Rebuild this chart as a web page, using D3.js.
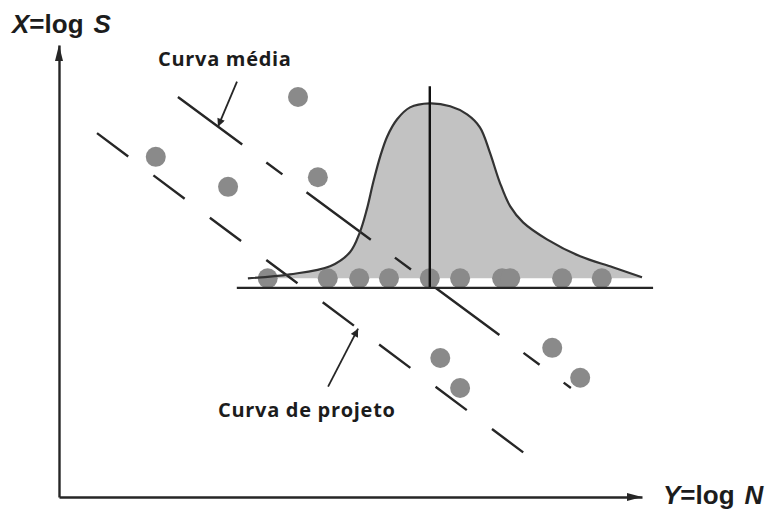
<!DOCTYPE html>
<html>
<head>
<meta charset="utf-8">
<script src="https://cdn.jsdelivr.net/npm/d3@7"></script>
<style>
  html, body { margin: 0; padding: 0; background: #fff; }
  svg { display: block; }
</style>
</head>
<body>
<svg id="chart" width="766" height="511"></svg>
<script>
// ---- Data (X = log S on the vertical axis, Y = log N on the horizontal axis) ----

// Scattered fatigue test results
const scatterLogN = [4.10, 1.66, 2.90, 4.44, 6.54, 6.88, 8.46, 8.94];
const scatterLogS = [7.08, 6.02, 5.49, 5.66, 2.46, 1.93, 2.64, 2.11];

// Results tested at a single stress level
const levelLogS = 3.87;
const levelLogN = [3.58, 4.61, 5.15, 5.66, 6.36, 6.88, 7.60, 7.74, 8.63, 9.31];
const levelAxisLogS = 3.70;      // reference line under that stress level
const levelAxisLogN = [3.05, 10.19];

// Distribution of log N at that stress level (relative density)
const densityLogN = [3.24, 3.96, 4.65, 4.99, 5.16, 5.28, 5.39, 5.51, 5.63, 5.80, 6.02,
                     6.36, 6.71, 7.00, 7.22, 7.39, 7.56, 7.74, 7.96, 8.37, 8.94, 9.50, 10.0];
const densityValue = [0.00, 0.023, 0.069, 0.149, 0.263, 0.394, 0.549, 0.697, 0.811, 0.909, 0.977,
                      1.00, 0.983, 0.937, 0.863, 0.72, 0.549, 0.411, 0.32, 0.223, 0.126, 0.063, 0.006];
const meanLogN = 6.36;
const meanLineTopLogS = 7.27;

// Mean curve and design curve (end points)
const meanCurveLogN = [2.04, 8.78];
const meanCurveLogS = [7.08, 1.93];
const designCurveLogN = [0.652, 7.976];
const designCurveLogS = [6.44, 0.779];

// Texts
const curveLabels = ["Curva média", "Curva de projeto"];
const axisLabelX = ["X", "=log", "S"];   // vertical axis
const axisLabelY = ["Y", "=log", "N"];   // horizontal axis

// ---- Layout ----
const svg = d3.select("#chart");
const ink = "#262626";

const xScale = d3.scaleLinear().domain([0, 10]).range([59, 642]);
const yScale = d3.scaleLinear().domain([0, 8]).range([497, 45]);
const densityScale = d3.scaleLinear().domain([0, 1]).range([0, 175]);

// arrowhead marker for the annotation leaders
const defs = svg.append("defs");
defs.append("marker")
  .attr("id", "tip")
  .attr("viewBox", "0 0 10 10")
  .attr("refX", 10).attr("refY", 5)
  .attr("markerWidth", 10).attr("markerHeight", 8)
  .attr("markerUnits", "userSpaceOnUse")
  .attr("orient", "auto")
  .append("path").attr("d", "M0,0L10,5L0,10Z").attr("fill", ink);

// ---- Axes ----
const xAxis = d3.axisBottom(xScale).tickValues([]).tickSizeOuter(0);
const yAxis = d3.axisLeft(yScale).tickValues([]).tickSizeOuter(0);
const gx = svg.append("g").attr("transform", `translate(0,${yScale(0)})`).call(xAxis);
const gy = svg.append("g").attr("transform", `translate(${xScale(0)},0)`).call(yAxis);
[gx, gy].forEach(g => g.select(".domain").attr("stroke", ink).attr("stroke-width", 2.4));

// axis arrowheads
const x0 = xScale(0), y0 = yScale(0);
const xEnd = xScale(10), yEnd = yScale(8);
svg.append("path")
  .attr("d", `M${xEnd},${y0}L${xEnd - 15},${y0 - 4}L${xEnd - 15},${y0 + 4}Z`)
  .attr("fill", ink);
svg.append("path")
  .attr("d", `M${x0},${yEnd}L${x0 - 4},${yEnd + 16}L${x0 + 4},${yEnd + 16}Z`)
  .attr("fill", ink);

// axis titles
function axisTitle(parts, x, y) {
  const t = svg.append("text")
    .attr("x", x).attr("y", y)
    .attr("font-family", "'Liberation Sans', Arial, sans-serif")
    .attr("font-weight", 700).attr("font-size", 26)
    .attr("fill", "#1c1c1c");
  t.append("tspan").attr("font-style", "italic").text(parts[0]);
  t.append("tspan").text(parts[1]);
  t.append("tspan").attr("font-style", "italic").attr("dx", 10).text(parts[2]);
}
axisTitle(axisLabelX, 12, 33);
axisTitle(axisLabelY, 663, 504);

// ---- Distribution at the tested stress level ----
const densityPts = densityLogN.map((n, i) => [n, densityValue[i]]);
const base = yScale(levelLogS);
const smooth = d3.curveCatmullRom.alpha(0.5);

svg.append("path")
  .datum(densityPts)
  .attr("d", d3.area()
    .x(d => xScale(d[0]))
    .y0(base)
    .y1(d => base - densityScale(d[1]))
    .curve(smooth))
  .attr("fill", "#c2c2c2");

// ---- Test points ----
const allPoints = scatterLogN.map((n, i) => ({n, s: scatterLogS[i]}))
  .concat(levelLogN.map(n => ({n, s: levelLogS})));
svg.append("g").selectAll("circle")
  .data(allPoints)
  .join("circle")
  .attr("cx", d => xScale(d.n))
  .attr("cy", d => yScale(d.s))
  .attr("r", 10)
  .attr("fill", "#8a8a8a");

// ---- Curves ----
const lineGen = d3.line().x(d => xScale(d[0])).y(d => yScale(d[1]));
svg.append("path")
  .datum(meanCurveLogN.map((n, i) => [n, meanCurveLogS[i]]))
  .attr("d", lineGen)
  .attr("fill", "none").attr("stroke", ink).attr("stroke-width", 2.4)
  .attr("stroke-dasharray", "80,30,20,30");
svg.append("path")
  .datum(designCurveLogN.map((n, i) => [n, designCurveLogS[i]]))
  .attr("d", lineGen)
  .attr("fill", "none").attr("stroke", ink).attr("stroke-width", 2.4)
  .attr("stroke-dasharray", "39,31.5");

// distribution outline, mean line and reference line
svg.append("path")
  .datum(densityPts)
  .attr("d", d3.line()
    .x(d => xScale(d[0]))
    .y(d => base - densityScale(d[1]))
    .curve(smooth))
  .attr("fill", "none").attr("stroke", "#333").attr("stroke-width", 2.2);

svg.append("line")
  .attr("x1", xScale(meanLogN)).attr("x2", xScale(meanLogN))
  .attr("y1", yScale(levelAxisLogS)).attr("y2", yScale(meanLineTopLogS))
  .attr("stroke", "#111").attr("stroke-width", 2.4);

svg.append("line")
  .attr("x1", xScale(levelAxisLogN[0])).attr("x2", xScale(levelAxisLogN[1]))
  .attr("y1", yScale(levelAxisLogS)).attr("y2", yScale(levelAxisLogS))
  .attr("stroke", ink).attr("stroke-width", 2.2);

// ---- Annotations ----
function yOnCurve(ns, ss, n) {
  return ss[0] + (ss[1] - ss[0]) * (n - ns[0]) / (ns[1] - ns[0]);
}
const annotations = [
  {label: curveLabels[0], atLogN: 2.727, ns: meanCurveLogN, ss: meanCurveLogS,
   from: [19, -45], text: [158, 66]},
  {label: curveLabels[1], atLogN: 5.13, ns: designCurveLogN, ss: designCurveLogS,
   from: [-30, 58], text: [218, 417]}
];
annotations.forEach(a => {
  const tx = xScale(a.atLogN);
  const ty = yScale(yOnCurve(a.ns, a.ss, a.atLogN));
  svg.append("line")
    .attr("x1", tx + a.from[0]).attr("y1", ty + a.from[1])
    .attr("x2", tx).attr("y2", ty)
    .attr("stroke", ink).attr("stroke-width", 1.8)
    .attr("marker-end", "url(#tip)");
  svg.append("text")
    .attr("x", a.text[0]).attr("y", a.text[1])
    .attr("font-family", "'Open Sans', 'Noto Sans', sans-serif")
    .attr("font-weight", 700).attr("font-size", 20)
    .attr("letter-spacing", 0.7)
    .attr("fill", "#1c1c1c")
    .text(a.label);
});
</script>
</body>
</html>
